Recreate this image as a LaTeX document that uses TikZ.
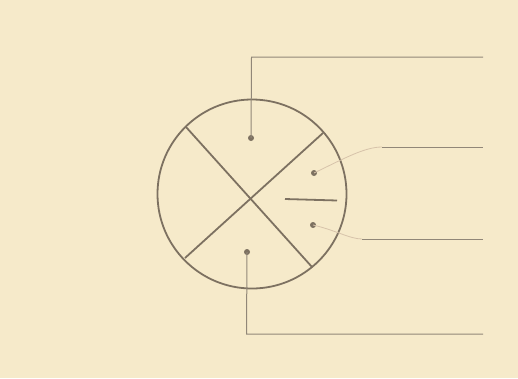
\documentclass[tikz,border=0pt]{standalone}
\begin{document}
\begin{tikzpicture}[x=1pt,y=-1pt,
  bgcol/.style={fill=paper},
  heavy/.style={draw=ink,line width=1.8pt},
  leader/.style={draw=inklight,line width=1pt},
  faint/.style={draw=inkfaint,line width=0.8pt},
  spot/.style={circle,fill=ink,inner sep=0pt,minimum size=6pt}]
\definecolor{paper}{RGB}{246,234,202}
\definecolor{ink}{RGB}{125,113,97}
\definecolor{inklight}{RGB}{145,135,120}
\definecolor{inkfaint}{RGB}{215,195,170}
\path[bgcol] (0,0) rectangle (518,378);
\useasboundingbox (0,0) rectangle (518,378);
% circle
\node[heavy,circle,minimum size=189pt,inner sep=0pt] (c) at (252,194) {};
% cross
\coordinate (ul) at (186,127);
\coordinate (ur) at (323,133);
\coordinate (ll) at (185,258);
\coordinate (lr) at (312,267);
\draw[heavy] (ul) -- (lr);
\draw[heavy] (ur) -- (ll);
% short bar
\coordinate (b1) at (285,199);
\coordinate (b2) at (337,200.5);
\draw[heavy] (b1) -- (b2);
% dots
\node[spot] (d1) at (251,138) {};
\node[spot] (d2) at (314,173) {};
\node[spot] (d3) at (313,225) {};
\node[spot] (d4) at (247,252) {};
% leader ends
\coordinate (e1a) at (251.5,57);
\coordinate (e1) at (483,57);
\coordinate (e2a) at (382,147);
\coordinate (e2) at (483,147);
\coordinate (e3a) at (362,239);
\coordinate (e3) at (483,239);
\coordinate (e4a) at (246.5,334);
\coordinate (e4) at (483,334);
\draw[leader] (d1.center) -- (e1a) -- (e1);
\draw[faint] (d2.center) .. controls (345,158) and (365,147) .. (e2a);
\draw[leader] (e2a) -- (e2);
\draw[faint] (d3.center) .. controls (335,230) and (350,239) .. (e3a);
\draw[leader] (e3a) -- (e3);
\draw[leader] (d4.center) -- (e4a) -- (e4);
\end{tikzpicture}
\end{document}
